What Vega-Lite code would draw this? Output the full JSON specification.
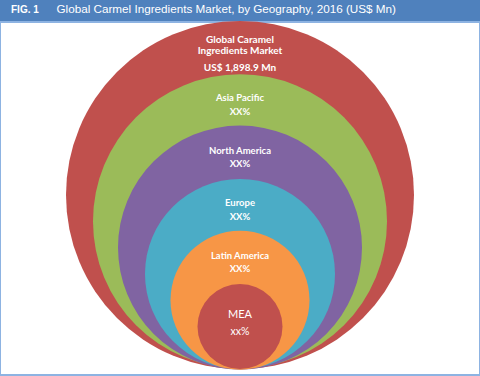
{
  "$schema": "https://vega.github.io/schema/vega-lite/v6.json",
  "width": 480,
  "height": 376,
  "autosize": {"type": "fit", "contains": "padding"},
  "padding": {"top": 4, "left": 0, "right": 0, "bottom": 1},
  "background": "#4F81BD",
  "title": {
    "text": "FIG. 1",
    "subtitle": "\u200b\u00a0\u00a0\u00a0\u00a0\u00a0\u00a0\u00a0\u00a0\u00a0\u00a0\u00a0\u00a0\u00a0\u00a0Global Carmel Ingredients Market, by Geography, 2016 (US$ Mn)",
    "anchor": "start",
    "frame": "group",
    "dx": 11,
    "offset": 4,
    "font": "Liberation Sans",
    "fontSize": 10,
    "fontWeight": "bold",
    "color": "#FFFFFF",
    "subtitleFont": "Liberation Sans",
    "subtitleFontSize": 11.7,
    "subtitleColor": "#FFFFFF",
    "subtitlePadding": -11
  },
  "config": {
    "view": {"fill": "#FFFFFF", "stroke": "#8DB3E2", "strokeWidth": 2}
  },
  "data": {
    "values": [
      {"ring": 0, "name": ["Global Caramel", "Ingredients Market"], "share": "US$ 1,898.9 Mn"},
      {"ring": 1, "name": "Asia Pacific", "share": "XX%"},
      {"ring": 2, "name": "North America", "share": "XX%"},
      {"ring": 3, "name": "Europe", "share": "XX%"},
      {"ring": 4, "name": "Latin America", "share": "XX%"},
      {"ring": 5, "name": "MEA", "share": "xx%"}
    ]
  },
  "resolve": {"scale": {"y": "independent"}},
  "layer": [
    {
      "mark": {"type": "circle", "opacity": 1},
      "encoding": {
        "y": {"field": "ring", "type": "quantitative", "scale": {"domain": [0, 5], "range": [173, 304.5]}, "axis": null},
        "size": {"field": "ring", "type": "ordinal", "scale": {"type": "ordinal", "domain": [0, 1, 2, 3, 4, 5], "range": [121104, 86436, 59536, 36100, 19321, 7225]}, "legend": null},
        "color": {"field": "ring", "type": "nominal", "scale": {"domain": [0, 1, 2, 3, 4, 5], "range": ["#C0504D", "#9BBB59", "#8064A2", "#4BACC6", "#F79646", "#C0504D"]}, "legend": null}
      }
    },
    {
      "transform": [{"filter": "datum.ring == 0"}],
      "mark": {"type": "text", "font": "Lato", "fontWeight": "bold", "fontSize": 10, "color": "#FFFFFF", "baseline": "middle", "lineHeight": 11, "dy": -5.7},
      "encoding": {
        "y": {"field": "ring", "type": "quantitative", "scale": {"domain": [0, 5], "range": [23.7, 286.2]}, "axis": null},
        "text": {"field": "name"}
      }
    },
    {
      "transform": [{"filter": "datum.ring >= 1 && datum.ring <= 4"}],
      "mark": {"type": "text", "font": "Lato", "fontWeight": "bold", "fontSize": 9.5, "color": "#FFFFFF", "baseline": "middle"},
      "encoding": {
        "y": {"field": "ring", "type": "quantitative", "scale": {"domain": [0, 5], "range": [23.7, 286.2]}, "axis": null},
        "text": {"field": "name"}
      }
    },
    {
      "transform": [{"filter": "datum.ring >= 1 && datum.ring <= 4"}],
      "mark": {"type": "text", "font": "Lato", "fontWeight": "bold", "fontSize": 9.5, "color": "#FFFFFF", "baseline": "middle", "dy": 13.5},
      "encoding": {
        "y": {"field": "ring", "type": "quantitative", "scale": {"domain": [0, 5], "range": [23.7, 286.2]}, "axis": null},
        "text": {"field": "share"}
      }
    },
    {
      "transform": [{"filter": "datum.ring == 0"}],
      "mark": {"type": "text", "font": "Lato", "fontWeight": "bold", "fontSize": 10, "color": "#FFFFFF", "baseline": "middle", "dy": 22.3},
      "encoding": {
        "y": {"field": "ring", "type": "quantitative", "scale": {"domain": [0, 5], "range": [23.7, 286.2]}, "axis": null},
        "text": {"field": "share"}
      }
    },
    {
      "transform": [{"filter": "datum.ring == 5"}],
      "mark": {"type": "text", "font": "Lato", "fontSize": 11, "color": "#FFFFFF", "baseline": "middle", "dy": 7},
      "encoding": {
        "y": {"field": "ring", "type": "quantitative", "scale": {"domain": [0, 5], "range": [23.7, 286.2]}, "axis": null},
        "text": {"field": "name"}
      }
    },
    {
      "transform": [{"filter": "datum.ring == 5"}],
      "mark": {"type": "text", "font": "Lato", "fontSize": 10.5, "color": "#FFFFFF", "baseline": "middle", "dy": 24},
      "encoding": {
        "y": {"field": "ring", "type": "quantitative", "scale": {"domain": [0, 5], "range": [23.7, 286.2]}, "axis": null},
        "text": {"field": "share"}
      }
    }
  ]
}
